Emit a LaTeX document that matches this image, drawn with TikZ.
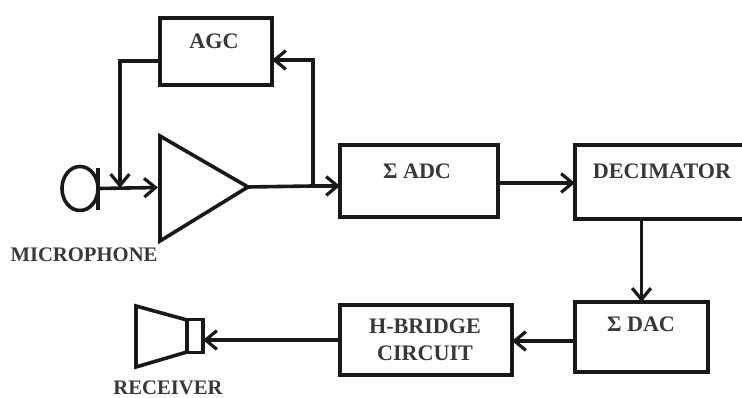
\documentclass[tikz,border=0pt]{standalone}
\usepackage{fontspec}
\setmainfont{Liberation Serif}
\usetikzlibrary{arrows.meta,positioning}
\definecolor{ink}{gray}{0.1}
\definecolor{txt}{gray}{0.22}
\tikzset{
  x=0.75pt,y=-0.75pt,
  ln/.style={draw=ink,line width=2.7pt,line join=miter},
  blockbox/.style={ln,rectangle,inner sep=0pt,outer sep=0pt},
  lbl/.style={text=txt,font=\fontsize{16.6pt}{20pt}\selectfont\bfseries,align=center,inner sep=0pt},
  smalllbl/.style={text=txt,font=\fontsize{15.5pt}{18pt}\selectfont\bfseries,align=center,inner sep=0pt},
  conn/.style={ln,-{Straight Barb[length=8.5pt,width=14pt,line width=2.4pt]}},
  plain/.style={ln}
}
\newcommand{\boxat}[5]{\node[blockbox,minimum width=#4*0.75pt,minimum height=#5*0.75pt] (#1) at (#2,#3) {};}
\begin{document}
\begin{tikzpicture}
\useasboundingbox (0,0) rectangle (742,398);
\fill[white] (0,0) rectangle (742,398);
% blocks
\boxat{agc}{216}{51.5}{112}{67}
\boxat{adc}{419}{181}{158}{72}
\boxat{dec}{660}{182}{170}{74}
\boxat{dac}{641.5}{337}{133}{70}
\boxat{hb}{426}{340}{172}{70}
% labels
\node[lbl] (agct) at (214,41) {AGC};
\node[lbl] (adct) at (417,171) {Σ ADC};
\node[lbl] (dect) at (662,171) {DECIMATOR};
\node[lbl] (dact) at (641,324) {Σ DAC};
\node[lbl] (hbt) at (425,340) {H-BRIDGE\\CIRCUIT};
\node[smalllbl] (mict) at (84,255) {MICROPHONE};
\node[smalllbl] (rect) at (168,388) {RECEIVER};
% amplifier
\draw[ln] (160,136) coordinate (ampa) -- (248,187) coordinate (ampout) -- (160,241) coordinate (ampb) -- cycle;
\coordinate (ampin) at (158,187.5);
% microphone
\draw[ln] (98,168) -- (98,210);
\draw[ln] (80,188.5) ellipse [x radius=18,y radius=22];
\coordinate (micout) at (99,188.5);
% receiver
\draw[ln] (136,306) -- (187,320) -- (187,352) -- (136,367) -- cycle;
\node[blockbox,minimum width=16*0.75pt,minimum height=33*0.75pt] (spk) at (195,336) {};
% connectors
\coordinate (fbin) at (120,188);
\coordinate (fbout) at (313,186);
\draw[conn] (micout) -- (ampin);
\draw[conn] (agc.west |- 0,61) -- (120,61) -- (fbin);
\draw[conn] (ampout) -- (fbout) -- (adc.west |- fbout);
\draw[conn] (fbout) -- (313,60) -- (agc.east |- 0,60);
\draw[conn] (adc.east |- 0,183) -- (dec.west |- 0,183);
\draw[conn] (dac.north |- dec.south) -- (dac.north);
\draw[conn] (dac.west |- 0,341) -- (hb.east |- 0,341);
\draw[conn] (hb.west) -- (spk.east |- hb.west);
\end{tikzpicture}
\end{document}
